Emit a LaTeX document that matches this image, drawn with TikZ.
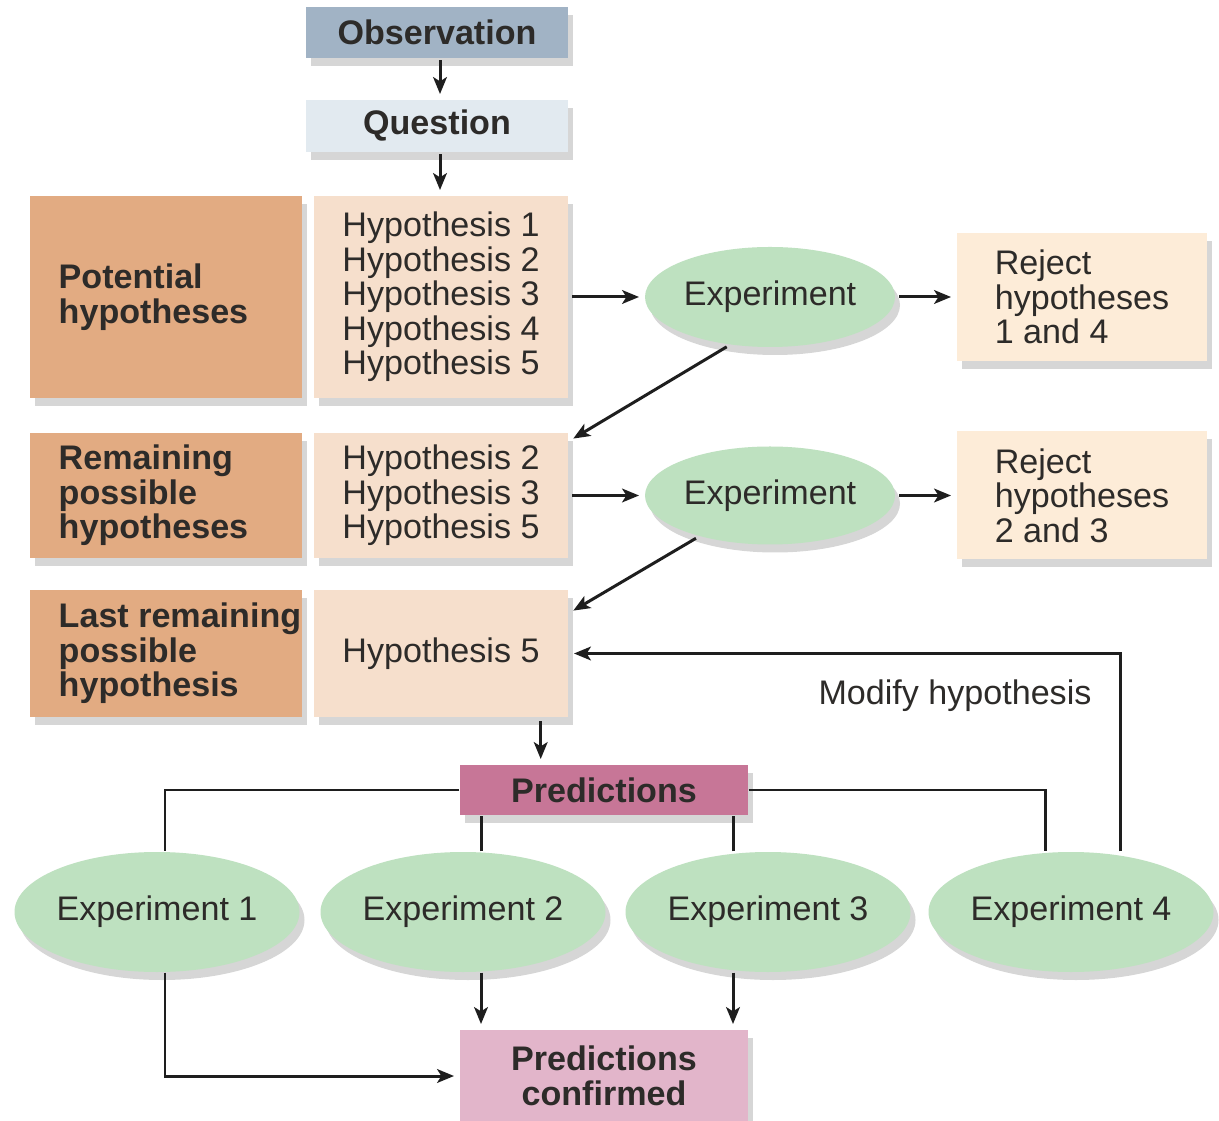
\documentclass[tikz,border=0pt]{standalone}
\usepackage{fontspec}
\setmainfont{Liberation Sans}
\usepackage{tikz}
\usetikzlibrary{positioning,arrows.meta,shapes,shadows}

\definecolor{obsfill}{RGB}{161,179,197}
\definecolor{quesfill}{RGB}{226,234,240}
\definecolor{darkfill}{RGB}{226,171,130}
\definecolor{lightfill}{RGB}{246,223,204}
\definecolor{rejfill}{RGB}{253,236,216}
\definecolor{expfill}{RGB}{190,225,192}
\definecolor{predfill}{RGB}{199,118,151}
\definecolor{conffill}{RGB}{226,181,202}
\definecolor{txtc}{RGB}{45,43,41}
\definecolor{linec}{RGB}{30,30,30}

\begin{document}
\begin{tikzpicture}[>={Stealth[length=4.8pt,width=3.9pt,inset=1.2pt]},
    txt/.style={font=\fontsize{9.7}{9.8}\selectfont,text=txtc},
    bold/.style={font=\fontsize{9.7}{9.8}\selectfont\bfseries,text=txtc},
    shade/.style={drop shadow={shadow xshift=0.05cm,shadow yshift=-0.08cm,opacity=0.16,fill=black}},
    box/.style={rectangle,inner sep=0pt,shade},
    dark/.style={box,fill=darkfill,minimum width=2.72cm},
    light/.style={box,txt,align=left,fill=lightfill,minimum width=2.54cm},
    rej/.style={box,txt,align=left,fill=rejfill,minimum width=2.5cm,minimum height=1.28cm},
    expt/.style={ellipse,txt,inner sep=0pt,fill=expfill,shade},
    line/.style={line width=0.85pt,draw=linec},
    arr/.style={line,->,shorten >=1.5pt}]
    \path[use as bounding box,fill=white] (0,0) rectangle (12.19,11.2);

    \node[box,bold,fill=obsfill,minimum width=2.62cm,minimum height=0.51cm] (obs) at (4.37,10.875) {Observation};
    \node[box,bold,fill=quesfill,minimum width=2.62cm,minimum height=0.52cm] (ques) at (4.37,9.94) {Question};

    % first round
    \node[dark,minimum height=2.02cm] (pot) at (1.66,8.23) {};
    \node[bold,anchor=west,align=left] (potlbl) at ([xshift=0.17cm]pot.west) {Potential\\hypotheses};
    \node[light,minimum height=2.02cm] (hyp1) at (4.41,8.23) {Hypothesis 1\\Hypothesis 2\\Hypothesis 3\\Hypothesis 4\\Hypothesis 5};
    \node[expt,minimum width=2.5cm,minimum height=1.0cm] (exp1) at (7.70,8.23) {Experiment};
    \node[rej] (rej1) at (10.82,8.23) {Reject\\hypotheses\\1 and 4};

    % second round
    \node[dark,minimum height=1.25cm] (rem) at (1.66,6.245) {};
    \node[bold,anchor=west,align=left] (remlbl) at ([xshift=0.17cm]rem.west) {Remaining\\possible\\hypotheses};
    \node[light,minimum height=1.25cm] (hyp2) at (4.41,6.245) {Hypothesis 2\\Hypothesis 3\\Hypothesis 5};
    \node[expt,minimum width=2.5cm,minimum height=0.98cm] (exp2) at (7.70,6.245) {Experiment};
    \node[rej] (rej2) at (10.82,6.245) {Reject\\hypotheses\\2 and 3};

    % last one
    \node[dark,minimum height=1.27cm] (last) at (1.66,4.665) {};
    \node[bold,anchor=west,align=left] (lastlbl) at ([xshift=0.17cm]last.west) {Last remaining\\possible\\hypothesis};
    \node[light,minimum height=1.27cm] (hyp3) at (4.41,4.665) {Hypothesis 5};
    \node[txt] (modify) at (9.55,4.24) {Modify hypothesis};

    % predictions and tests
    \node[box,bold,fill=predfill,minimum width=2.88cm,minimum height=0.5cm] (pred) at (6.04,3.30) {Predictions};
    \node[expt,minimum width=2.85cm,minimum height=1.2cm] (e1) at (1.57,2.08) {Experiment 1};
    \node[expt,minimum width=2.85cm,minimum height=1.2cm] (e2) at (4.63,2.08) {Experiment 2};
    \node[expt,minimum width=2.85cm,minimum height=1.2cm] (e3) at (7.68,2.08) {Experiment 3};
    \node[expt,minimum width=2.85cm,minimum height=1.2cm] (e4) at (10.71,2.08) {Experiment 4};
    \node[box,bold,align=center,fill=conffill,minimum width=2.88cm,minimum height=0.92cm] (conf) at (6.04,0.44) {Predictions\\confirmed};

    \draw[arr,shorten <=0.5pt] ([xshift=0.03cm]obs.south) coordinate (os) -- (os |- ques.north);
    \draw[arr,shorten <=0.5pt] ([xshift=0.03cm]ques.south) coordinate (qs) -- (qs |- hyp1.north);
    \draw[arr,shorten <=1pt] (hyp1.east) -- (exp1.west);
    \draw[arr,shorten <=1pt] (exp1.east) -- (rej1.west);
    \draw[arr,shorten <=1pt] (exp1.230) -- ([yshift=-0.09cm]hyp2.north east);
    \draw[arr,shorten <=1pt] (hyp2.east) -- (exp2.west);
    \draw[arr,shorten <=1pt] (exp2.east) -- (rej2.west);
    \draw[arr,shorten <=1pt] (exp2.210) -- ([yshift=-0.24cm]hyp3.north east);
    \draw[arr,shorten <=1pt] ([xshift=-0.28cm]hyp3.south east) coordinate (h3b) -- (h3b |- pred.north);

    \draw[line] (pred.west) -| ([xshift=0.08cm]e1.north);
    \draw[line] (pred.east) -| ([xshift=-0.26cm]e4.north);
    \draw[line] ([xshift=0.18cm]e2.north) -- ([xshift=0.18cm]e2.north |- pred.south);
    \draw[line] ([xshift=-0.35cm]e3.north) -- ([xshift=-0.35cm]e3.north |- pred.south);
    \draw[arr] ([xshift=0.49cm]e4.north) |- (hyp3.east);

    \draw[arr] ([xshift=0.08cm]e1.south) |- (conf.west);
    \draw[arr] ([xshift=0.18cm]e2.south) -- ([xshift=0.18cm]e2.south |- conf.north);
    \draw[arr] ([xshift=-0.35cm]e3.south) -- ([xshift=-0.35cm]e3.south |- conf.north);
\end{tikzpicture}
\end{document}
